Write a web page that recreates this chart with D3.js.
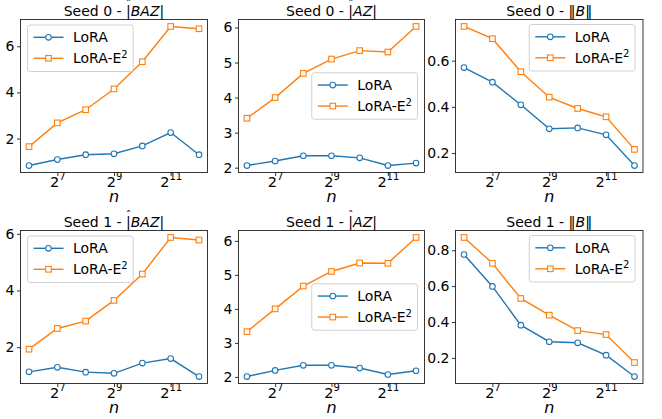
<!DOCTYPE html>
<html><head><meta charset="utf-8">
<script src="https://cdn.jsdelivr.net/npm/d3@7/dist/d3.min.js"></script>
<style>body{margin:0;background:#fff} svg{display:block} text{font-family:"DejaVu Sans",sans-serif;fill:#000}</style>
</head><body><svg id="chart" width="662" height="419"></svg>
<script>
// ---- data ----
const nValues = [64, 128, 256, 512, 1024, 2048, 4096];
const xTickValues = [128, 512, 2048];
const xTickExponents = ["7", "9", "11"];
const seriesLabels = ["LoRA", "LoRA-E"];
const seriesSup = ["", "2"];
const seriesColors = ["#1f77b4", "#ff7f0e"];

const seed0_BAZ_lora = [0.83, 1.09, 1.30, 1.34, 1.68, 2.26, 1.30];
const seed0_BAZ_e2   = [1.65, 2.68, 3.25, 4.15, 5.33, 6.86, 6.76];
const seed0_AZ_lora  = [2.06, 2.19, 2.34, 2.34, 2.28, 2.06, 2.13];
const seed0_AZ_e2    = [3.41, 4.00, 4.69, 5.10, 5.34, 5.30, 6.03];
const seed0_B_lora   = [0.570, 0.507, 0.409, 0.305, 0.309, 0.279, 0.146];
const seed0_B_e2     = [0.748, 0.695, 0.552, 0.442, 0.393, 0.357, 0.216];
const seed1_BAZ_lora = [1.13, 1.29, 1.12, 1.08, 1.44, 1.60, 0.965];
const seed1_BAZ_e2   = [1.93, 2.66, 2.92, 3.65, 4.58, 5.87, 5.78];
const seed1_AZ_lora  = [2.01, 2.19, 2.34, 2.34, 2.26, 2.07, 2.18];
const seed1_AZ_e2    = [3.33, 4.00, 4.67, 5.10, 5.35, 5.34, 6.10];
const seed1_B_lora   = [0.776, 0.598, 0.382, 0.290, 0.284, 0.215, 0.096];
const seed1_B_e2     = [0.871, 0.727, 0.531, 0.438, 0.352, 0.330, 0.174];

const yTicks_BAZ0 = [2, 4, 6];
const yTicks_AZ0  = [2, 3, 4, 5, 6];
const yTicks_B0   = [0.2, 0.4, 0.6];
const yTicks_BAZ1 = [2, 4, 6];
const yTicks_AZ1  = [2, 3, 4, 5, 6];
const yTicks_B1   = [0.2, 0.4, 0.6, 0.8];

const titlePrefixes = ["Seed 0 - ", "Seed 1 - "];
const metricNames = ["BAZ", "AZ", "B"];

// ---- layout ----
const colLeft = [20.5, 238.5, 455.5];
const colW = [187, 186, 187.5];
const rowTop = [19.5, 230.5];
const plotH = 153;

const panels = [
  {row:0, col:0, lora:seed0_BAZ_lora, e2:seed0_BAZ_e2, ticks:yTicks_BAZ0, fmt:"d",   legend:"ul", hat:true,  bar:"|"},
  {row:0, col:1, lora:seed0_AZ_lora,  e2:seed0_AZ_e2,  ticks:yTicks_AZ0,  fmt:"d",   legend:"cr", hat:true,  bar:"|"},
  {row:0, col:2, lora:seed0_B_lora,   e2:seed0_B_e2,   ticks:yTicks_B0,   fmt:".1f", legend:"ur", hat:false, bar:"\u2016"},
  {row:1, col:0, lora:seed1_BAZ_lora, e2:seed1_BAZ_e2, ticks:yTicks_BAZ1, fmt:"d",   legend:"ul", hat:true,  bar:"|"},
  {row:1, col:1, lora:seed1_AZ_lora,  e2:seed1_AZ_e2,  ticks:yTicks_AZ1,  fmt:"d",   legend:"cr", hat:true,  bar:"|"},
  {row:1, col:2, lora:seed1_B_lora,   e2:seed1_B_e2,   ticks:yTicks_B1,   fmt:".1f", legend:"ur", hat:false, bar:"\u2016"},
];

const svg = d3.select("#chart");
svg.append("rect").attr("width",662).attr("height",419).attr("fill","#fff");

const lx = Math.log2(nValues[0]), hx = Math.log2(nValues[nValues.length-1]);
const mx = 0.05*(hx-lx);

panels.forEach(p => {
  const L = colLeft[p.col], T = rowTop[p.row], W = colW[p.col], H = plotH;
  const x = d3.scaleLog().base(2).domain([Math.pow(2,lx-mx), Math.pow(2,hx+mx)]).range([L, L+W]);
  const all = p.lora.concat(p.e2);
  const ymin = d3.min(all), ymax = d3.max(all), r = ymax-ymin;
  const y = d3.scaleLinear().domain([ymin-0.05*r, ymax+0.05*r]).range([T+H, T]);
  const g = svg.append("g");

  // series
  [p.lora, p.e2].forEach((vals, si) => {
    const pts = nValues.map((n,i)=>({n, v: vals[i]}));
    g.append("path").datum(pts)
      .attr("d", d3.line().x(d=>x(d.n)).y(d=>y(d.v)))
      .attr("fill","none").attr("stroke",seriesColors[si]).attr("stroke-width",1.4);
    if (si===0) {
      g.selectAll(null).data(pts).enter().append("circle")
        .attr("cx",d=>x(d.n)).attr("cy",d=>y(d.v)).attr("r",2.8)
        .attr("fill","#fff").attr("stroke",seriesColors[si]).attr("stroke-width",1.1);
    } else {
      const s = 5.6;
      g.selectAll(null).data(pts).enter().append("rect")
        .attr("x",d=>x(d.n)-s/2).attr("y",d=>y(d.v)-s/2).attr("width",s).attr("height",s)
        .attr("fill","#fff").attr("stroke",seriesColors[si]).attr("stroke-width",1.1);
    }
  });

  // axes
  const yAxis = g.append("g").attr("transform",`translate(${L},0)`)
    .call(d3.axisLeft(y).tickValues(p.ticks).tickFormat(d3.format(p.fmt)).tickSize(3.5).tickPadding(2.5));
  yAxis.select(".domain").remove();
  yAxis.selectAll(".tick line").attr("stroke","#000").attr("stroke-width",0.8);
  yAxis.selectAll(".tick text").attr("font-size",14).attr("font-family","DejaVu Sans").attr("fill","#000");

  const xAxis = g.append("g").attr("transform",`translate(0,${T+H})`)
    .call(d3.axisBottom(x).tickValues(xTickValues).tickFormat(()=>"").tickSize(3.5));
  xAxis.select(".domain").remove();
  xAxis.selectAll(".tick line").attr("stroke","#000").attr("stroke-width",0.8);
  xAxis.selectAll(".tick text").each(function(d,i){
    const t = d3.select(this).text(null).attr("y",14).attr("dy",null)
      .attr("font-size",14.5).attr("text-anchor","middle");
    t.append("tspan").text("2");
    t.append("tspan").attr("font-size",10).attr("dy",-6.5).text(xTickExponents[i]);
  });

  // frame
  g.append("rect").attr("x",L).attr("y",T).attr("width",W).attr("height",H)
    .attr("fill","none").attr("stroke","#222").attr("stroke-width",0.9);

  // x label
  g.append("text").attr("x",L+W/2).attr("y",T+H+29).attr("text-anchor","middle")
    .attr("font-size",16).attr("font-style","italic").text("n");

  // title
  const title = g.append("text").attr("x",L+W/2).attr("y",T-3.5).attr("text-anchor","middle").attr("font-size",14);
  title.append("tspan").text(titlePrefixes[p.row]);
  title.append("tspan").text(p.bar);
  title.append("tspan").attr("font-style","italic").text(metricNames[p.col]);
  title.append("tspan").text(p.bar);
  if (p.hat) {
    const idx = titlePrefixes[p.row].length;
    const node = title.node();
    const a = node.getStartPositionOfChar(idx).x, b = node.getEndPositionOfChar(idx).x;
    g.append("text").attr("x",(a+b)/2).attr("y",T-3.5-8).attr("text-anchor","middle")
      .attr("font-size",11).text("\u02C6");
  }

  // legend
  const lg = g.append("g");
  const box = lg.append("rect").attr("rx",2.5).attr("fill","#fff").attr("fill-opacity",0.8)
    .attr("stroke","#ccc").attr("stroke-width",0.9);
  let maxW = 0;
  const rowsY = [12.3, 33.3];
  seriesLabels.forEach((lab, si) => {
    const cy = rowsY[si];
    lg.append("line").attr("x1",6).attr("x2",36).attr("y1",cy).attr("y2",cy)
      .attr("stroke",seriesColors[si]).attr("stroke-width",1.4);
    if (si===0) lg.append("circle").attr("cx",21).attr("cy",cy).attr("r",2.8)
      .attr("fill","#fff").attr("stroke",seriesColors[si]).attr("stroke-width",1.1);
    else lg.append("rect").attr("x",21-2.8).attr("y",cy-2.8).attr("width",5.6).attr("height",5.6)
      .attr("fill","#fff").attr("stroke",seriesColors[si]).attr("stroke-width",1.1);
    const t = lg.append("text").attr("x",45.4).attr("y",cy+5).attr("font-size",14);
    t.append("tspan").text(lab);
    if (seriesSup[si]) t.append("tspan").attr("font-size",10).attr("dy",-5.5).text(seriesSup[si]);
    maxW = Math.max(maxW, t.node().getComputedTextLength());
  });
  const bw = 45.4 + maxW + 5.5, bh = 46.5;
  box.attr("width",bw).attr("height",bh);
  let bx, by;
  if (p.legend==="ul") { bx = L+7; by = T+5.5; }
  else if (p.legend==="ur") { bx = L+W-8-bw; by = T+5; }
  else { bx = L+W-7-bw; by = T+H/2-bh/2; }
  lg.attr("transform",`translate(${bx},${by})`);
});
</script></body></html>
